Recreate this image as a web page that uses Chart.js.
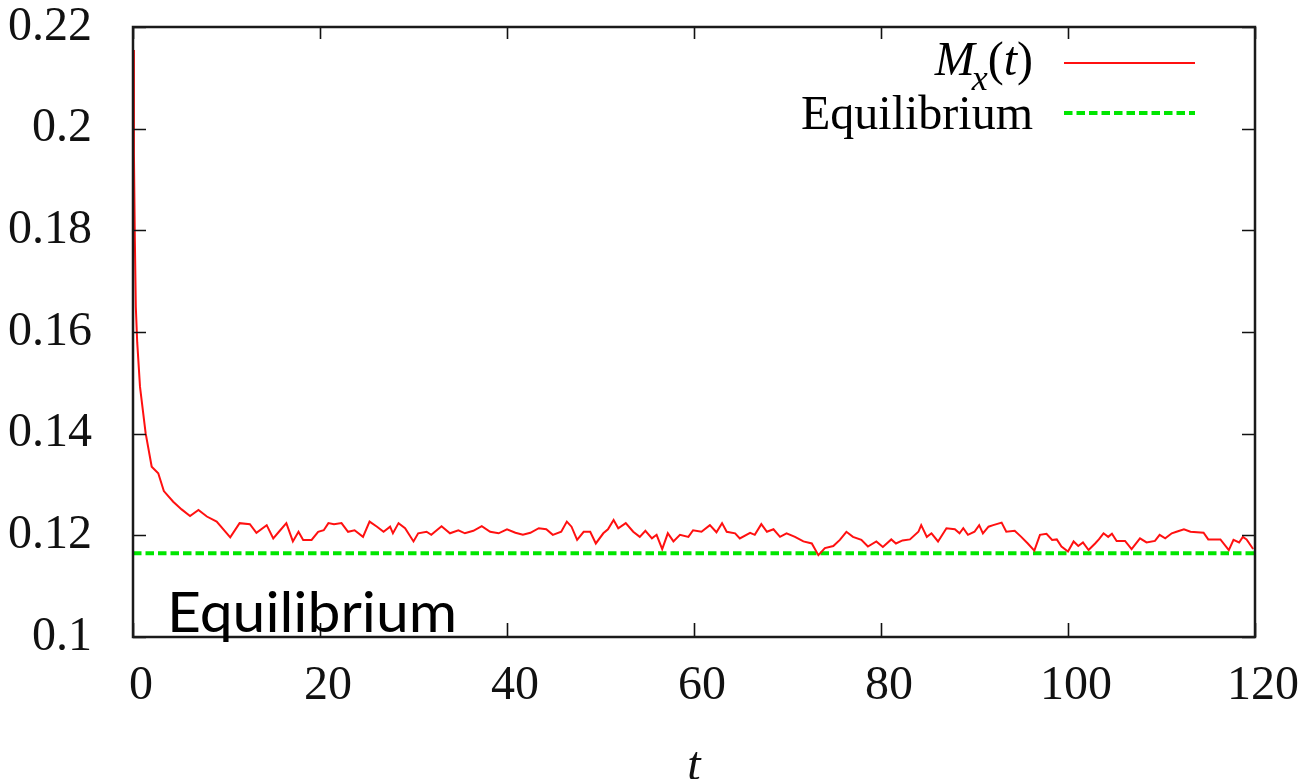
<!DOCTYPE html>
<html>
<head>
<meta charset="utf-8">
<script src="https://cdn.jsdelivr.net/npm/chart.js@4/dist/chart.umd.min.js"></script>
<style>
html, body { margin: 0; padding: 0; background: #fff; }
#wrap { width: 1302px; height: 779px; position: relative; }
</style>
</head>
<body>
<div id="wrap"><canvas id="chart"></canvas></div>
<script>
let times = [
    0, 0.1, 0.2, 0.3, 0.45, 0.75, 1.35, 2.0, 2.7, 3.3, 4.3, 5.2, 6.1, 7.0, 7.9, 8.95,
    10.4, 11.4, 12.5, 13.2, 14.3, 15.0, 15.7, 16.4, 17.1, 17.7, 18.2, 19.1, 19.8,
    20.4, 20.9, 21.5, 22.3, 23.0, 23.7, 24.6, 25.3, 26.1, 26.8, 27.5, 27.8, 28.4, 29.1,
    30.0, 30.5, 31.4, 31.9, 33.0, 33.9, 34.8, 35.5, 36.4, 37.3, 38.2, 39.1,
    40.0, 40.9, 41.7, 42.5, 43.4, 44.2, 44.9, 45.8, 46.4, 46.9, 47.5, 48.2, 48.9, 49.5,
    50.3, 50.8, 51.4, 51.9, 52.7, 53.5, 54.2, 54.8, 55.5, 56.0, 56.6, 57.2, 57.8, 58.5, 59.4, 59.9,
    60.8, 61.7, 62.4, 63.0, 63.5, 64.4, 64.9, 66.0, 66.5, 67.2, 67.8, 68.5, 69.2, 69.9,
    70.8, 71.7, 72.6, 73.3, 74.0, 74.9, 75.6, 76.3, 77.0, 77.9, 78.6, 79.5,
    80.2, 81.1, 81.6, 82.3, 83.1, 84.0, 84.3, 84.9, 85.4, 86.1, 87.0, 87.9, 88.4, 88.8, 89.3,
    90.0, 90.5, 90.9, 91.5, 92.0, 92.9, 93.4, 94.3, 95.0, 95.7, 96.4, 97.0, 97.7, 98.3, 98.8, 99.3,
    100.0, 100.6, 101.1, 101.6, 102.2, 102.9, 103.3, 103.8, 104.3, 104.7, 105.2, 106.1, 106.8,
    107.7, 108.4, 109.3, 109.8, 110.4, 111.1, 111.6, 112.4, 113.1, 114.5, 115.0, 116.3,
    117.2, 117.7, 118.3, 118.7, 119.1, 119.8
]
let mx = [
    0.2155, 0.195, 0.178, 0.165, 0.158, 0.1492, 0.1401, 0.1335, 0.1322, 0.1287, 0.1266, 0.1251, 0.1238, 0.1250, 0.1237, 0.1227,
    0.1196, 0.1224, 0.1222, 0.1205, 0.1220, 0.1194, 0.1209, 0.1224, 0.1188, 0.1207, 0.1191, 0.1191, 0.1207,
    0.1210, 0.1224, 0.1222, 0.1224, 0.1207, 0.1210, 0.1197, 0.1227, 0.1217, 0.1207, 0.1217, 0.1204, 0.1224, 0.1214,
    0.1188, 0.1204, 0.1207, 0.1201, 0.1218, 0.1204, 0.1210, 0.1204, 0.1209, 0.1218, 0.1207, 0.1204,
    0.1212, 0.1205, 0.1201, 0.1205, 0.1214, 0.1212, 0.1201, 0.1207, 0.1227, 0.1217, 0.1191, 0.1207, 0.1207, 0.1184,
    0.1204, 0.1212, 0.1230, 0.1214, 0.1224, 0.1207, 0.1197, 0.1209, 0.1194, 0.1201, 0.1173, 0.1204, 0.1188, 0.1201, 0.1197, 0.1210,
    0.1207, 0.1220, 0.1206, 0.1224, 0.1207, 0.1204, 0.1194, 0.1205, 0.1201, 0.1222, 0.1207, 0.1212, 0.1197, 0.1204,
    0.1197, 0.1188, 0.1184, 0.1161, 0.1175, 0.1179, 0.1191, 0.1207, 0.1197, 0.1191, 0.1178, 0.1188,
    0.1177, 0.1192, 0.1184, 0.1190, 0.1192, 0.1207, 0.1220, 0.1197, 0.1204, 0.1188, 0.1214, 0.1212, 0.1204, 0.1214, 0.1201,
    0.1207, 0.1220, 0.1204, 0.1217, 0.1220, 0.1225, 0.1207, 0.1209, 0.1197, 0.1184, 0.1170, 0.1201, 0.1203, 0.1191, 0.1192, 0.1178,
    0.1168, 0.1188, 0.1179, 0.1186, 0.1171, 0.1184, 0.1192, 0.1204, 0.1197, 0.1203, 0.1189, 0.1189, 0.1173,
    0.1194, 0.1186, 0.1189, 0.1201, 0.1194, 0.1204, 0.1207, 0.1212, 0.1207, 0.1205, 0.1192, 0.1192,
    0.1171, 0.1191, 0.1186, 0.1197, 0.1192, 0.1173
]
let equilibrium = 0.1165
let xTicks = [0, 20, 40, 60, 80, 100, 120]
let yTicks = [0.1, 0.12, 0.14, 0.16, 0.18, 0.2, 0.22]
let yTickLabels = ['0.1', '0.12', '0.14', '0.16', '0.18', '0.2', '0.22']

let serif = "'Liberation Serif', 'Times New Roman', serif"

function points(xs, ys) {
    return xs.map(function(x, i) { return {x: x, y: ys[i]} })
}

let decor = {
    id: 'decor',
    afterDatasetsDraw(chart) {
        let ctx = chart.ctx
        let a = chart.chartArea
        let xs = chart.scales.x, ys = chart.scales.y
        ctx.save()

        ctx.strokeStyle = '#111'
        ctx.lineWidth = 1.6
        ctx.beginPath()
        xs.ticks.forEach(function(t) {
            let p = Math.round(xs.getPixelForValue(t.value)) + 0.5
            ctx.moveTo(p, a.bottom); ctx.lineTo(p, a.bottom - 14)
            ctx.moveTo(p, a.top); ctx.lineTo(p, a.top + 12)
        })
        ys.ticks.forEach(function(t) {
            let p = Math.round(ys.getPixelForValue(t.value)) + 0.5
            ctx.moveTo(a.left, p); ctx.lineTo(a.left + 13, p)
            ctx.moveTo(a.right, p); ctx.lineTo(a.right - 13, p)
        })
        ctx.stroke()

        ctx.lineWidth = 2.5
        ctx.strokeStyle = '#1a1a1a'
        ctx.strokeRect(a.left, a.top, a.width, a.height)

        // key, top right
        let ds = chart.data.datasets
        let x = 1033
        ctx.fillStyle = '#000'
        ctx.textAlign = 'right'
        ctx.textBaseline = 'alphabetic'
        ctx.font = '48px ' + serif
        ctx.fillText(')', x, 75)
        x -= ctx.measureText(')').width
        ctx.font = 'italic 48px ' + serif
        ctx.fillText('t', x, 75)
        x -= ctx.measureText('t').width
        ctx.font = '48px ' + serif
        ctx.fillText('(', x, 75)
        x -= ctx.measureText('(').width
        ctx.font = 'italic 36px ' + serif
        ctx.fillText('x', x, 90)
        x -= ctx.measureText('x').width
        ctx.font = 'italic 48px ' + serif
        ctx.fillText('M', x + 3, 75)
        ctx.font = '48px ' + serif
        ctx.fillText('Equilibrium', 1033, 129)

        ctx.strokeStyle = ds[0].borderColor
        ctx.lineWidth = ds[0].borderWidth
        ctx.setLineDash([])
        ctx.beginPath(); ctx.moveTo(1064, 63); ctx.lineTo(1195, 63); ctx.stroke()
        ctx.strokeStyle = ds[1].borderColor
        ctx.lineWidth = ds[1].borderWidth
        ctx.setLineDash(ds[1].borderDash)
        ctx.beginPath(); ctx.moveTo(1064, 113); ctx.lineTo(1195, 113); ctx.stroke()
        ctx.setLineDash([])

        // caption inside the plot
        ctx.textAlign = 'left'
        ctx.font = '57px Lato, sans-serif'
        let w = ctx.measureText('Equilibrium').width
        ctx.translate(167, 632)
        ctx.scale(290 / w, 1)
        ctx.fillText('Equilibrium', 0, 0)
        ctx.restore()
    }
}

let config = {
    type: 'line',
    data: {
        datasets: [
            {
                label: 'M_x(t)',
                data: points(times, mx),
                borderColor: '#ff1010',
                borderWidth: 2,
                pointRadius: 0,
                tension: 0
            },
            {
                label: 'Equilibrium',
                data: points([0, 120], [equilibrium, equilibrium]),
                borderColor: '#00e600',
                borderWidth: 4,
                borderDash: [8.5, 4],
                pointRadius: 0
            }
        ]
    },
    options: {
        responsive: true,
        maintainAspectRatio: false,
        animation: false,
        layout: { padding: { top: 27, right: 47, left: 0, bottom: 0 } },
        plugins: { legend: { display: false }, tooltip: { enabled: false } },
        scales: {
            x: {
                type: 'linear',
                min: 0,
                max: 120,
                afterBuildTicks: function(s) { s.ticks = xTicks.map(function(v) { return {value: v} }) },
                afterFit: function(s) { s.height = 142; s.paddingLeft = 0; s.paddingRight = 0 },
                grid: { display: false },
                border: { display: false },
                ticks: {
                    color: '#111',
                    font: { family: serif, size: 48 },
                    padding: 13,
                    labelOffset: 8,
                    maxRotation: 0,
                    callback: function(v) { return String(v) }
                },
                title: {
                    display: true,
                    text: 't',
                    color: '#111',
                    font: { family: serif, size: 48, style: 'italic', lineHeight: 0.5 },
                    padding: 0
                }
            },
            y: {
                min: 0.1,
                max: 0.22,
                afterBuildTicks: function(s) { s.ticks = yTicks.map(function(v) { return {value: v} }) },
                afterFit: function(s) { s.width = 133; s.paddingTop = 0; s.paddingBottom = 0 },
                grid: { display: false },
                border: { display: false },
                ticks: {
                    color: '#111',
                    font: { family: serif, size: 48 },
                    padding: 33,
                    callback: function(v, i) { return yTickLabels[i] }
                }
            }
        }
    },
    plugins: [decor]
}

new Chart(document.getElementById('chart'), config)
</script>
</body>
</html>
